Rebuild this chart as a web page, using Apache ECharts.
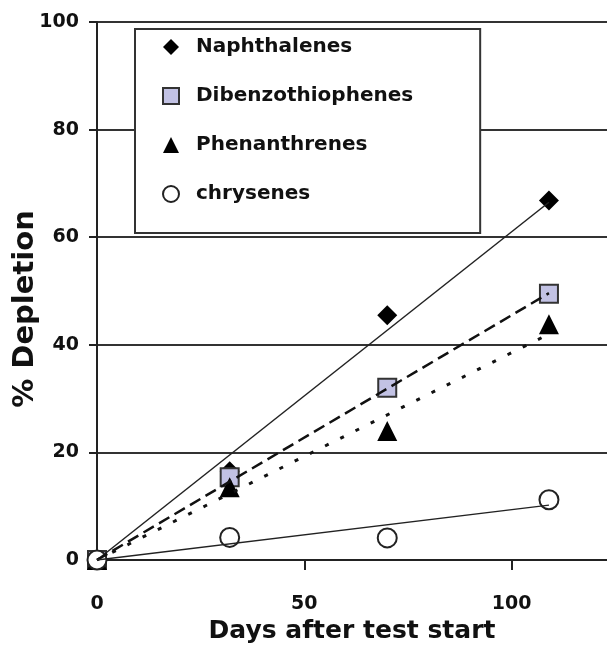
<!DOCTYPE html>
<html><head><meta charset="utf-8">
<script src="https://cdn.jsdelivr.net/npm/echarts@6/dist/echarts.min.js"></script>
<style>html,body{margin:0;padding:0;background:#fff}#c{width:607px;height:646px}</style>
</head><body><div id="c"></div>
<script>
// Data
const days = [0, 32, 70, 109];
const naphthalenes = [0, 16.5, 45.5, 66.8];
const dibenzothiophenes = [0, 15.4, 32.0, 49.5];
const phenanthrenes = [0, 13.5, 24.0, 43.8];
const chrysenes = [0, 4.2, 4.1, 11.2];
// Trend lines (start and end days, fitted values)
const trendDays = [0, 109];
const naphTrend = [0, 66.5];
const dbtTrend = [0, 49.6];
const phenTrend = [0, 42.0];
const chryTrend = [0, 10.2];
const yTicks = [0, 20, 40, 60, 80, 100];
const xTicks = [0, 50, 100];
const seriesNames = ['Naphthalenes', 'Dibenzothiophenes', 'Phenanthrenes', 'chrysenes'];
const yTitle = '% Depletion';
const xTitle = 'Days after test start';

const pts = (ys) => days.map((d, i) => [d, ys[i]]);
const tr = (ys) => trendDays.map((d, i) => [d, ys[i]]);
const FONT = 'DejaVu Sans';

const chart = echarts.init(document.getElementById('c'), null, {renderer: 'canvas'});
chart.setOption({
  animation: false,
  backgroundColor: '#fff',
  grid: {left: 97, right: 0, top: 22, bottom: 86, containLabel: false, outerBoundsMode: 'none'},
  graphic: [{
    type: 'text', x: 25, y: 309, rotation: Math.PI / 2, silent: true,
    style: {text: yTitle, fontFamily: FONT, fontWeight: 'bold', fontSize: 29, fill: '#111',
      textAlign: 'center', textVerticalAlign: 'middle', verticalAlign: 'middle'}
  }],
  xAxis: {
    type: 'value', min: 0, max: 123, interval: 50,
    name: xTitle, nameLocation: 'middle', nameGap: 58,
    nameTextStyle: {fontFamily: FONT, fontWeight: 'bold', fontSize: 25, color: '#111'},
    axisLine: {show: true, lineStyle: {color: '#222', width: 2}},
    axisTick: {show: true, inside: false, length: 10, lineStyle: {color: '#222', width: 2}},
    axisLabel: {margin: 35, fontFamily: FONT, fontWeight: 'bold', fontSize: 19, color: '#111', showMaxLabel: false,
      formatter: (v) => xTicks.includes(v) ? String(v) : ''},
    splitLine: {show: false}
  },
  yAxis: {
    type: 'value', min: 0, max: 100, interval: 20,
    axisLine: {show: true, lineStyle: {color: '#222', width: 2}},
    axisTick: {show: true, inside: false, length: 8, lineStyle: {color: '#222', width: 2}},
    axisLabel: {margin: 18, fontFamily: FONT, fontWeight: 'bold', fontSize: 19, color: '#111',
      formatter: (v) => yTicks.includes(v) ? String(v) : ''},
    splitLine: {show: true, lineStyle: {color: '#333', width: 2}}
  },
  legend: {
    orient: 'vertical', left: 135, top: 29,
    selectedMode: false,
    backgroundColor: '#fff', borderColor: '#333', borderWidth: 2,
    padding: [8, 67, 29, 27],
    itemWidth: 16, itemHeight: 16, itemGap: 29,
    textStyle: {fontFamily: FONT, fontWeight: 'bold', fontSize: 20, color: '#111', lineHeight: 20, padding: [0, 0, 0, 12]},
    data: [
      {name: seriesNames[0], icon: 'diamond'},
      {name: seriesNames[1], icon: 'rect'},
      {name: seriesNames[2], icon: 'triangle'},
      {name: seriesNames[3], icon: 'circle'}
    ]
  },
  series: [
    {name: seriesNames[0], type: 'scatter', data: pts(naphthalenes), symbol: 'diamond', symbolSize: 20,
      itemStyle: {color: '#000', borderColor: '#000', borderWidth: 0, opacity: 1}, z: 2},
    {name: seriesNames[1], type: 'scatter', data: pts(dibenzothiophenes), symbol: 'rect', symbolSize: 18,
      itemStyle: {color: '#c2c2e4', borderColor: '#333', borderWidth: 2, opacity: 1}, z: 2},
    {name: seriesNames[2], type: 'scatter', data: pts(phenanthrenes), symbol: 'triangle', symbolSize: 20,
      itemStyle: {color: '#000', borderColor: '#000', borderWidth: 0, opacity: 1}, z: 2},
    {name: seriesNames[3], type: 'scatter', data: pts(chrysenes), symbol: 'circle', symbolSize: 19,
      itemStyle: {color: '#fff', borderColor: '#222', borderWidth: 2, opacity: 1}, z: 2},
    {type: 'line', data: tr(naphTrend), symbol: 'none', silent: true, z: 3,
      lineStyle: {color: '#222', width: 1.5, type: 'solid'}},
    {type: 'line', data: tr(dbtTrend), symbol: 'none', silent: true, z: 3,
      lineStyle: {color: '#111', width: 2.5, type: [12, 6]}},
    {type: 'line', data: tr(phenTrend), symbol: 'none', silent: true, z: 3,
      lineStyle: {color: '#111', width: 3, type: [4, 13]}},
    {type: 'line', data: tr(chryTrend), symbol: 'none', silent: true, z: 3,
      lineStyle: {color: '#222', width: 1.5, type: 'solid'}}
  ]
});
</script>
</body></html>
